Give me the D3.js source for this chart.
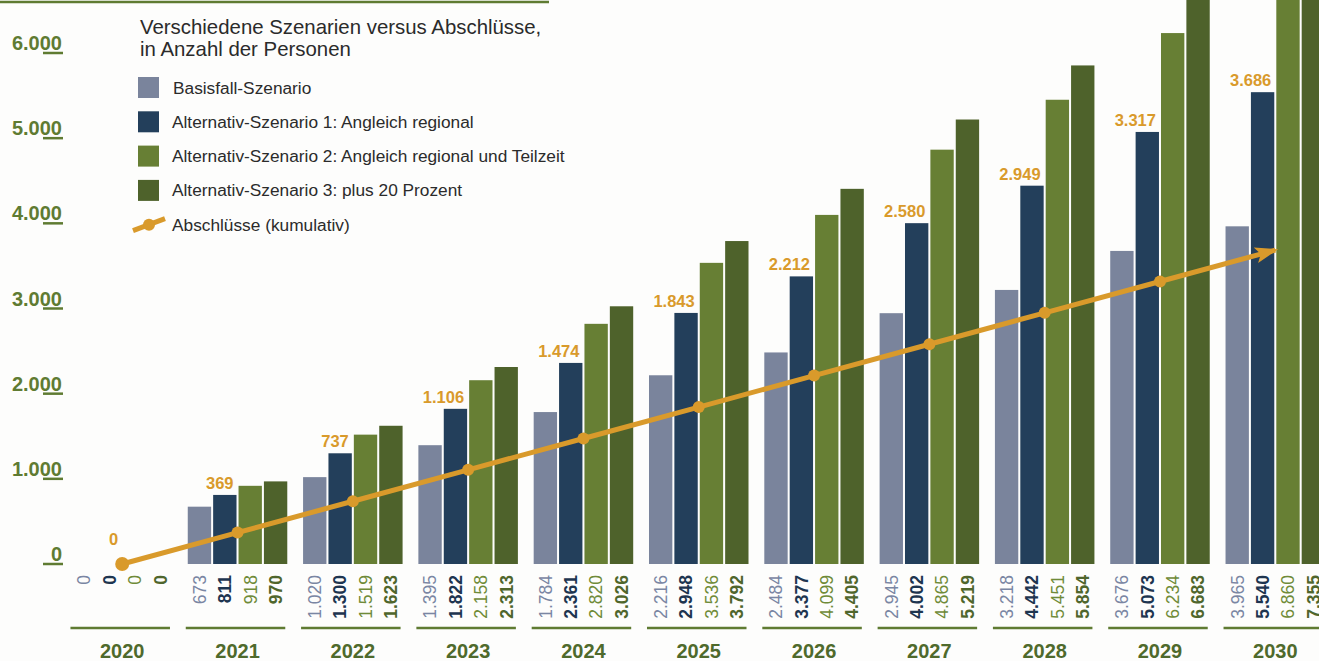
<!DOCTYPE html>
<html>
<head>
<meta charset="utf-8">
<script src="https://cdn.jsdelivr.net/npm/d3@7"></script>
<style>
  html, body { margin: 0; padding: 0; background: #fdfdfc; }
  svg { display: block; font-family: "Liberation Sans", Arial, Helvetica, sans-serif; }
</style>
</head>
<body>
<div id="chart"></div>
<script>
var years = ["2020","2021","2022","2023","2024","2025","2026","2027","2028","2029","2030"];
var basis = [0, 673, 1020, 1395, 1784, 2216, 2484, 2945, 3218, 3676, 3965];
var alt1  = [0, 811, 1300, 1822, 2361, 2948, 3377, 4002, 4442, 5073, 5540];
var alt2  = [0, 918, 1519, 2158, 2820, 3536, 4099, 4865, 5451, 6234, 6860];
var alt3  = [0, 970, 1623, 2313, 3026, 3792, 4405, 5219, 5854, 6683, 7355];
var abschluesse = [0, 369, 737, 1106, 1474, 1843, 2212, 2580, 2949, 3317, 3686];
var yTicks = [0, 1000, 2000, 3000, 4000, 5000, 6000];

var seriesNames = ["Basisfall-Szenario",
  "Alternativ-Szenario 1: Angleich regional",
  "Alternativ-Szenario 2: Angleich regional und Teilzeit",
  "Alternativ-Szenario 3: plus 20 Prozent"];
var lineName = "Abschlüsse (kumulativ)";
var title = ["Verschiedene Szenarien versus Abschlüsse,", "in Anzahl der Personen"];

var barColors   = ["#7a849c", "#233f5b", "#677f34", "#4e622b"];
var labelColors = ["#7a86a3", "#1e3550", "#6f8b38", "#4f662c"];
var labelWeight = ["normal", "bold", "normal", "bold"];
var orange = "#d99a2b";
var green = "#5f7b32";

var width = 1319, height = 661;
var allSeries = [basis, alt1, alt2, alt3];

var fmt = d3.formatLocale({decimal: ",", thousands: ".", grouping: [3], currency: ["", "€"]}).format(",");

var svg = d3.select("#chart").append("svg")
  .attr("width", width)
  .attr("height", height);

// scales
var x0 = d3.scaleBand().domain(years).range([14.8, 1382.7]).paddingInner(0.137).paddingOuter(0.5);
var x1 = d3.scaleBand().domain(d3.range(4)).range([0, x0.bandwidth()]).paddingInner(0.08);
var y = d3.scaleLinear().domain([0, 6000]).range([564, 53]);

// top rule
svg.append("line")
  .attr("x1", 0).attr("x2", 549).attr("y1", 2).attr("y2", 2)
  .attr("stroke", green).attr("stroke-width", 2.5);

// y axis ticks + labels
var yAxis = svg.append("g");
yTicks.forEach(function(t){
  yAxis.append("line")
    .attr("x1", 43).attr("x2", 63)
    .attr("y1", y(t)).attr("y2", y(t))
    .attr("stroke", green).attr("stroke-width", 2.5);
  yAxis.append("text")
    .attr("x", 62).attr("y", y(t) - 3)
    .attr("text-anchor", "end")
    .attr("font-size", 20).attr("font-weight", "bold")
    .attr("fill", green)
    .text(fmt(t));
});

// bars
var groups = svg.selectAll("g.year").data(years).enter().append("g")
  .attr("class", "year")
  .attr("transform", function(d){ return "translate(" + x0(d) + ",0)"; });

groups.each(function(yr, i){
  var g = d3.select(this);
  for (var s = 0; s < 4; s++) {
    var v = allSeries[s][i];
    g.append("rect")
      .attr("x", x1(s))
      .attr("y", y(v))
      .attr("width", x1.bandwidth())
      .attr("height", y(0) - y(v))
      .attr("fill", barColors[s]);
    g.append("text")
      .attr("transform", "translate(" + (x1(s) + x1.bandwidth()/2) + ",575) rotate(-90)")
      .attr("dy", "0.36em")
      .attr("text-anchor", "end")
      .attr("font-size", 17.5)
      .attr("font-weight", labelWeight[s])
      .attr("fill", labelColors[s])
      .text(fmt(v));
  }
  // underline + year label
  g.append("line")
    .attr("x1", -2).attr("x2", x0.bandwidth() - 2)
    .attr("y1", 628).attr("y2", 628)
    .attr("stroke", green).attr("stroke-width", 2.5);
  g.append("text")
    .attr("x", x0.bandwidth()/2).attr("y", 658)
    .attr("text-anchor", "middle")
    .attr("font-size", 20).attr("font-weight", "bold")
    .attr("fill", "#4f6a2c")
    .text(yr);
});

// cumulative line with arrow
var defs = svg.append("defs");
defs.append("marker")
  .attr("id", "arrow")
  .attr("viewBox", "0 -10 24 20")
  .attr("refX", 20).attr("refY", 0)
  .attr("markerWidth", 24).attr("markerHeight", 20)
  .attr("markerUnits", "userSpaceOnUse")
  .attr("orient", "auto")
  .append("path")
  .attr("d", "M0,-8 L23,0 L0,8 L5,0 Z")
  .attr("fill", orange);

var cx = function(i){ return x0(years[i]) + x0.bandwidth()/2; };
var line = d3.line()
  .x(function(d, i){ return cx(i); })
  .y(function(d){ return y(d); });

svg.append("path")
  .datum(abschluesse)
  .attr("d", line)
  .attr("fill", "none")
  .attr("stroke", orange)
  .attr("stroke-width", 5)
  .attr("marker-end", "url(#arrow)");

svg.selectAll("circle.pt").data(abschluesse.slice(0, abschluesse.length - 1)).enter().append("circle")
  .attr("class", "pt")
  .attr("cx", function(d, i){ return cx(i); })
  .attr("cy", function(d){ return y(d); })
  .attr("r", function(d, i){ return i == 0 ? 7 : 6; })
  .attr("fill", orange);

// line value labels, sitting over the second bar
abschluesse.forEach(function(v, i){
  var bx = x0(years[i]) + x1(1) + x1.bandwidth();
  var by = Math.min(y(alt1[i]), y(v) - 13) - 6;
  svg.append("text")
    .attr("x", bx - 3).attr("y", by)
    .attr("text-anchor", "end")
    .attr("font-size", 16.5).attr("font-weight", "bold")
    .attr("fill", orange)
    .text(fmt(v));
});

// legend
var legend = svg.append("g");
legend.selectAll("text.title").data(title).enter().append("text")
  .attr("class", "title")
  .attr("x", 140).attr("y", function(d, i){ return 34 + i*22; })
  .attr("font-size", 20.4).attr("fill", "#2b2b2b")
  .text(function(d){ return d; });

seriesNames.forEach(function(name, s){
  var ly = 87.5 + s*34.3;
  legend.append("rect")
    .attr("x", 138).attr("y", ly - 10.5)
    .attr("width", 21).attr("height", 21)
    .attr("fill", barColors[s]);
  legend.append("text")
    .attr("x", s == 0 ? 173 : 172).attr("y", ly + 6)
    .attr("font-size", 17.3).attr("fill", "#2b2b2b")
    .text(name);
});
var lyL = 87.5 + 4*34.3;
legend.append("line")
  .attr("x1", 133).attr("y1", lyL + 6).attr("x2", 165).attr("y2", lyL - 6)
  .attr("stroke", orange).attr("stroke-width", 5);
legend.append("circle")
  .attr("cx", 149).attr("cy", lyL).attr("r", 6)
  .attr("fill", orange);
legend.append("text")
  .attr("x", 172).attr("y", lyL + 6)
  .attr("font-size", 17.3).attr("fill", "#2b2b2b")
  .text(lineName);
</script>
</body>
</html>
